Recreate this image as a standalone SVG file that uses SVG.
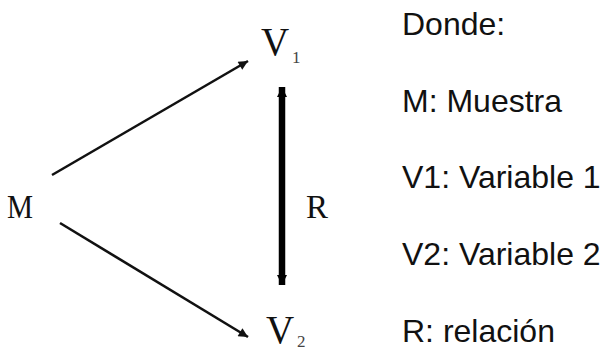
<svg xmlns="http://www.w3.org/2000/svg" width="605" height="351" viewBox="0 0 605 351">
  <style>
    .serif { font-family: "Liberation Serif", "Times New Roman", serif; fill: #111; }
    .sub { font-family: "Liberation Serif", "Times New Roman", serif; fill: #444; font-size: 17px; }
    .legend { font-family: "Liberation Sans", Arial, sans-serif; font-size: 32px; fill: #111; }
    .thin { stroke: #111; stroke-width: 2.6; fill: none; }
    .thick { stroke: #000; stroke-width: 6.5; fill: none; }
  </style>
  <defs>
    <marker id="head" viewBox="0 0 10 10" refX="10" refY="5" markerWidth="4.4" markerHeight="3.6" orient="auto" markerUnits="strokeWidth">
      <path d="M0,0 L10,5 L0,10 z" fill="#111"/>
    </marker>
    <marker id="headThick" viewBox="0 0 10 10" refX="10" refY="5" markerWidth="1.6" markerHeight="2.4" orient="auto" markerUnits="strokeWidth">
      <path d="M0,0 L10,5 L0,10 z" fill="#000"/>
    </marker>
  </defs>

  <g id="node-M">
    <text class="serif" x="7" y="218" font-size="34" textLength="26" lengthAdjust="spacingAndGlyphs">M</text>
  </g>
  <g id="node-V1">
    <text class="serif" x="261" y="55" font-size="39">V</text>
    <text class="sub" x="292" y="63">1</text>
  </g>
  <g id="node-V2">
    <text class="serif" x="266" y="343" font-size="39">V</text>
    <text class="sub" x="297" y="347">2</text>
  </g>
  <g id="label-R">
    <text class="serif" x="306" y="218" font-size="33">R</text>
  </g>

  <g id="connectors">
    <line class="thin" x1="52" y1="175" x2="248" y2="61" marker-end="url(#head)"/>
    <line class="thin" x1="60" y1="223" x2="248" y2="337" marker-end="url(#head)"/>
    <line class="thick" x1="282" y1="180" x2="282" y2="87" marker-end="url(#headThick)"/>
    <line class="thick" x1="282" y1="180" x2="282" y2="285" marker-end="url(#headThick)"/>
  </g>

  <g id="legend">
    <text class="legend" x="402" y="35">Donde:</text>
    <text class="legend" x="402" y="112">M: Muestra</text>
    <text class="legend" x="402" y="188">V1: Variable 1</text>
    <text class="legend" x="402" y="265">V2: Variable 2</text>
    <text class="legend" x="402" y="342">R: relación</text>
  </g>
</svg>
